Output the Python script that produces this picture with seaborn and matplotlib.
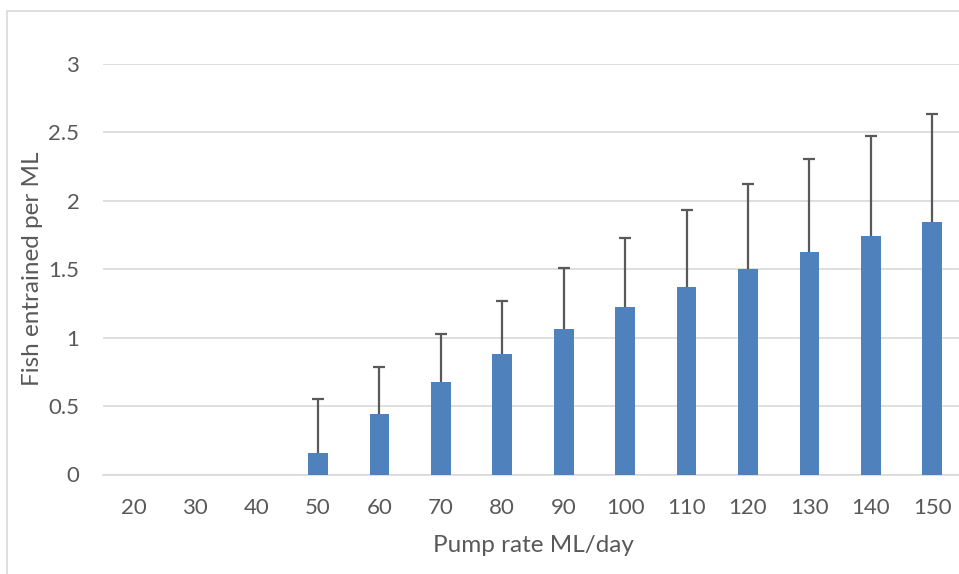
import matplotlib
matplotlib.use("Agg")
import matplotlib.pyplot as plt
import seaborn as sns
import pandas as pd
import numpy as np
from matplotlib.patches import Rectangle

pump_rates = ["20", "30", "40", "50", "60", "70", "80", "90", "100", "110", "120", "130", "140", "150"]
fish_mean = [0.0, 0.0, 0.0, 0.16, 0.44, 0.675, 0.88, 1.06, 1.22, 1.37, 1.50, 1.625, 1.74, 1.845]
fish_upper = [0.0, 0.0, 0.0, 0.55, 0.785, 1.025, 1.27, 1.505, 1.73, 1.93, 2.125, 2.305, 2.475, 2.63]
y_ticks = [0, 0.5, 1, 1.5, 2, 2.5, 3]
y_tick_labels = ["0", "0.5", "1", "1.5", "2", "2.5", "3"]

df = pd.DataFrame({"rate": pump_rates, "fish": fish_mean, "upper": fish_upper})

sns.set_theme(style="white")
plt.rcParams["font.family"] = ["Lato", "DejaVu Sans"]

text_color = "#595959"
grid_color = "#D9D9D9"
bar_color = "#4F81BD"

fig = plt.figure(figsize=(9.59, 5.74), dpi=100)
ax = fig.add_axes([103 / 959, 99.5 / 574, 860 / 959, 410.8 / 574])

sns.barplot(data=df, x="rate", y="fish", color=bar_color, saturation=1,
            width=0.32, ax=ax, zorder=3, edgecolor="none")

xpos = np.arange(len(pump_rates))
mask = (df["upper"] > df["fish"]).to_numpy()
err_up = (df["upper"] - df["fish"])[mask].to_numpy()
eb = ax.errorbar(xpos[mask], df["fish"][mask], yerr=[np.zeros_like(err_up), err_up],
                 fmt="none", ecolor="#595959", elinewidth=1.6, capsize=4.3, capthick=1.6, zorder=4)
# hide the lower caps (Excel "plus" direction error bars)
eb[1][0].set_visible(False)

ax.set_ylim(0, 3)
ax.set_xlim(-0.5, len(pump_rates) - 0.5)
ax.set_yticks(y_ticks)
ax.set_yticklabels(y_tick_labels)
ax.yaxis.grid(True, color=grid_color, linewidth=1.2, zorder=0)
ax.set_axisbelow(True)
for s in ["top", "right", "left"]:
    ax.spines[s].set_visible(False)
ax.spines["bottom"].set_color(grid_color)
ax.spines["bottom"].set_linewidth(1.2)
ax.spines["bottom"].set_zorder(2)
ax.tick_params(axis="both", length=0, labelsize=16, colors=text_color)
ax.tick_params(axis="y", pad=17)
ax.tick_params(axis="x", pad=17)
ax.set_xlabel("Pump rate ML/day", fontsize=17.5, color=text_color, labelpad=12)
ax.set_ylabel("Fish entrained per ML", fontsize=17.5, color=text_color, labelpad=4)

fig.patches.append(Rectangle((7 / 959, -0.1), 1.2, 1 - 11 / 574 + 0.1, transform=fig.transFigure,
                             fill=False, edgecolor=grid_color, linewidth=1.2, zorder=0))

fig.savefig("out.png", dpi=100)
